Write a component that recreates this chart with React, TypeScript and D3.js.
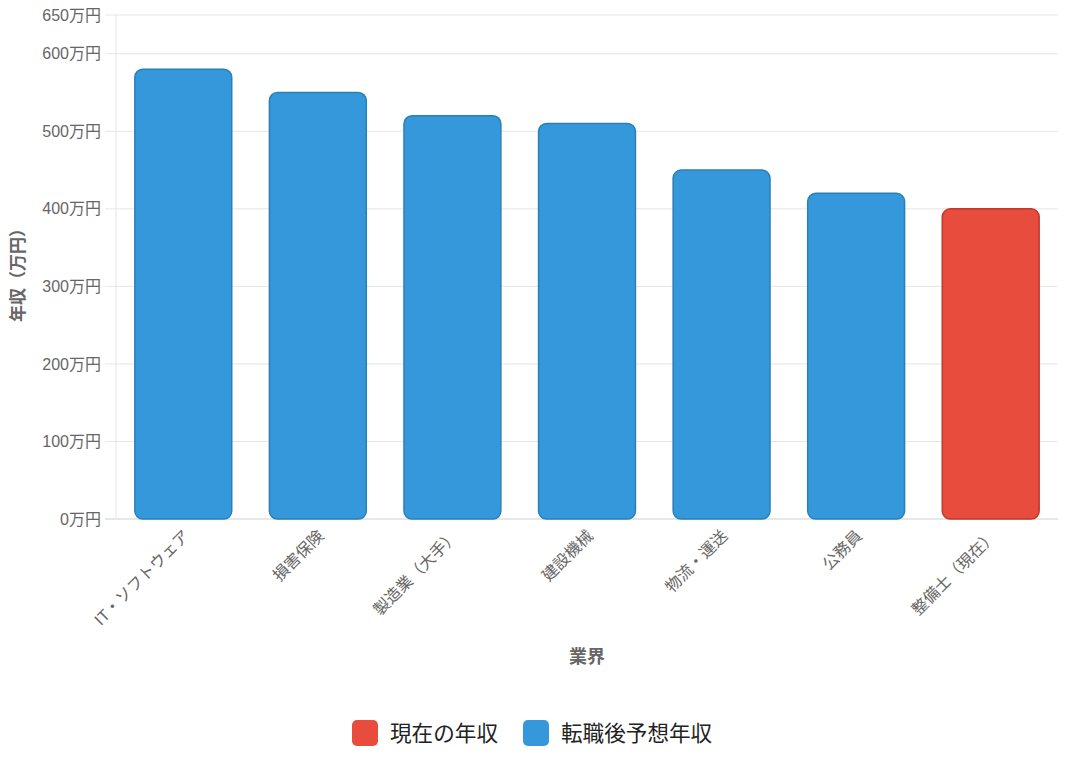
import { useEffect, useRef } from "react";
import * as d3 from "d3";

const CATEGORIES = [
  "IT・ソフトウェア",
  "損害保険",
  "製造業（大手）",
  "建設機械",
  "物流・運送",
  "公務員",
  "整備士（現在）",
];
const SALARIES = [580, 550, 520, 510, 450, 420, 400];
const IS_CURRENT = [false, false, false, false, false, false, true];
const Y_TICKS = [0, 100, 200, 300, 400, 500, 600, 650];
const LEGEND = [
  { label: "現在の年収", fill: "#e74c3c" },
  { label: "転職後予想年収", fill: "#3498db" },
];

const WIDTH = 1084;
const HEIGHT = 768;
const MARGIN = { top: 15, right: 26, bottom: 249, left: 116 };
const FONT = "'Liberation Sans', Arial, 'Noto Sans CJK JP', sans-serif";

const BLUE = { fill: "#3498db", stroke: "#2980b9" };
const RED = { fill: "#e74c3c", stroke: "#c0392b" };

export default function App() {
  const svgRef = useRef<SVGSVGElement>(null);

  useEffect(() => {
    document.body.style.margin = "0";
    const svg = svgRef.current;
    if (!svg) return;
    const root = d3.select(svg);
    root.selectAll("*").remove();

    const w = WIDTH - MARGIN.left - MARGIN.right;
    const h = HEIGHT - MARGIN.top - MARGIN.bottom;

    const g = root
      .append("g")
      .attr("transform", `translate(${MARGIN.left},${MARGIN.top})`);

    const x = d3.scaleBand<string>().domain(CATEGORIES).range([0, w]);
    const y = d3.scaleLinear().domain([0, 650]).range([h, 0]);

    // grid + y ticks
    for (const t of Y_TICKS) {
      g.append("line")
        .attr("x1", -11)
        .attr("x2", w)
        .attr("y1", y(t))
        .attr("y2", y(t))
        .attr("stroke", t === 0 ? "#cfcfcf" : "#e6e6e6")
        .attr("stroke-width", 1);
      g.append("text")
        .attr("x", -15)
        .attr("y", y(t))
        .attr("dy", "0.35em")
        .attr("text-anchor", "end")
        .attr("fill", "#666")
        .attr("font-family", FONT)
        .attr("font-size", 16)
        .text(`${t}万円`);
    }

    // left axis border
    g.append("line")
      .attr("x1", 0)
      .attr("x2", 0)
      .attr("y1", 0)
      .attr("y2", h)
      .attr("stroke", "#e6e6e6");

    // bars
    const bw = x.bandwidth() * 0.72;
    CATEGORIES.forEach((c, i) => {
      const col = IS_CURRENT[i] ? RED : BLUE;
      const bx = (x(c) ?? 0) + (x.bandwidth() - bw) / 2;
      const by = y(SALARIES[i]);
      g.append("rect")
        .attr("x", bx)
        .attr("y", by)
        .attr("width", bw)
        .attr("height", y(0) - by)
        .attr("rx", 8)
        .attr("ry", 8)
        .attr("fill", col.fill)
        .attr("stroke", col.stroke)
        .attr("stroke-width", 1.5);
    });

    // x labels
    CATEGORIES.forEach((c) => {
      const cx = (x(c) ?? 0) + x.bandwidth() / 2;
      g.append("text")
        .attr("transform", `translate(${cx + 3},${h + 14}) rotate(-45)`)
        .attr("text-anchor", "end")
        .attr("dy", "0.35em")
        .attr("fill", "#666")
        .attr("font-family", FONT)
        .attr("font-size", 16)
        .text(c);
    });

    // axis titles
    g.append("text")
      .attr("x", w / 2)
      .attr("y", h + 144)
      .attr("text-anchor", "middle")
      .attr("fill", "#666")
      .attr("font-family", FONT)
      .attr("font-size", 18)
      .attr("font-weight", "bold")
      .text("業界");

    g.append("text")
      .attr("transform", `translate(${-98},${h / 2 + 4}) rotate(-90)`)
      .attr("text-anchor", "middle")
      .attr("dy", "0.35em")
      .attr("fill", "#666")
      .attr("font-family", FONT)
      .attr("font-size", 17)
      .attr("font-weight", "bold")
      .text("年収（万円）");

    // legend
    const lg = root.append("g").attr("transform", `translate(352,720)`);
    const offsets = [0, 171];
    LEGEND.forEach((d, i) => {
      lg.append("rect")
        .attr("x", offsets[i])
        .attr("y", 0)
        .attr("width", 26)
        .attr("height", 26)
        .attr("rx", 5)
        .attr("fill", d.fill);
      lg.append("text")
        .attr("x", offsets[i] + 38)
        .attr("y", 13)
        .attr("dy", "0.35em")
        .attr("fill", "#222")
        .attr("font-family", FONT)
        .attr("font-size", 21.6)
        .text(d.label);
    });
  }, []);

  return <svg ref={svgRef} width={WIDTH} height={HEIGHT} style={{ display: "block", background: "#fff" }} />;
}
